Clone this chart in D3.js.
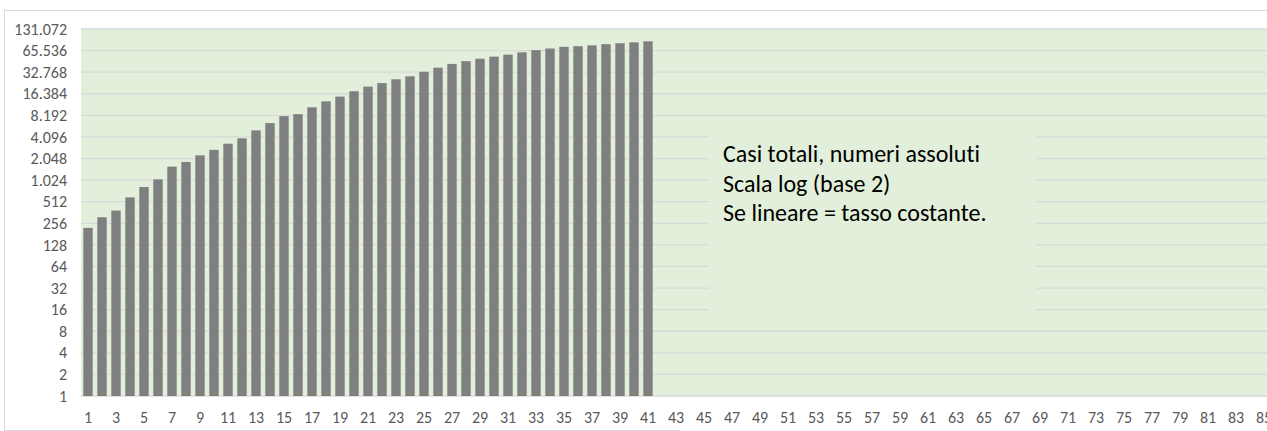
<!DOCTYPE html>
<html>
<head>
<meta charset="utf-8">
<script src="https://cdn.jsdelivr.net/npm/d3@7"></script>
<style>
  body { margin: 0; background: #fff; }
  svg { display: block; font-family: Calibri, Carlito, Lato, sans-serif; font-variant-ligatures: none; }
</style>
</head>
<body>
<svg id="chart" width="1267" height="431"></svg>
<script>
// days since start (category axis), only the first 41 have a value
var days = d3.range(1, 91);
var cases = [221, 311, 385, 588, 821, 1049, 1577, 1835, 2263, 2706,
  3296, 3916, 5061, 6387, 7985, 8514, 10590, 12839, 14955, 17750,
  20603, 23073, 26062, 28710, 33190, 37860, 42681, 46638, 50418, 54030,
  57521, 62013, 66414, 70065, 73880, 75528, 77635, 80572, 83049, 85388,
  88274];
var yTicks = d3.range(0, 18).map(function(e) { return Math.pow(2, e); });
var noteLines = ["Casi totali, numeri assoluti", "Scala log (base 2)", "Se lineare = tasso costante."];

var svg = d3.select("#chart");
var width = +svg.attr("width"), height = +svg.attr("height");

var plot = { left: 81, top: 29, bottom: 396 };
var step = 14;

var it = d3.formatLocale({ decimal: ",", thousands: ".", grouping: [3], currency: ["", " €"] });
var fmt = it.format(",d");

var x = d3.scaleBand()
  .domain(days)
  .range([plot.left, plot.left + days.length * step])
  .paddingInner(0.33)
  .paddingOuter(0.165);

var y = d3.scaleLog().base(2)
  .domain([1, 131072])
  .range([plot.bottom, plot.top]);

// outer chart border (picture is cropped on the right)
svg.append("path")
  .attr("d", "M" + 1280 + ",10.5H4.5V430.5H680")
  .attr("fill", "none")
  .attr("stroke", "#d9d9d9")
  .attr("stroke-width", 1);

// plot area
svg.append("rect")
  .attr("x", plot.left)
  .attr("y", plot.top)
  .attr("width", width - plot.left + 20)
  .attr("height", plot.bottom - plot.top)
  .attr("fill", "#e2efda");

// gridlines
svg.append("g")
  .selectAll("line")
  .data(yTicks)
  .enter()
  .append("line")
  .attr("x1", plot.left)
  .attr("x2", width + 20)
  .attr("y1", function(d) { return y(d); })
  .attr("y2", function(d) { return y(d); })
  .attr("stroke", "#d9d9d9")
  .attr("stroke-width", 1.3);

// bars
svg.append("g")
  .selectAll("rect")
  .data(cases)
  .enter()
  .append("rect")
  .attr("x", function(d, i) { return x(days[i]); })
  .attr("width", x.bandwidth())
  .attr("y", function(d) { return y(d); })
  .attr("height", function(d) { return plot.bottom - y(d); })
  .attr("fill", "#7f7f7f");

// y axis labels
var yAxis = d3.axisLeft(y).tickValues(yTicks).tickFormat(fmt).tickSize(0).tickPadding(14);
var gy = svg.append("g")
  .attr("transform", "translate(" + plot.left + ",0)")
  .call(yAxis);
gy.select(".domain").remove();
gy.attr("font-size", 16).attr("font-family", null);
gy.selectAll("text").attr("fill", "#595959");

// x axis labels (every other day)
var xAxis = d3.axisBottom(x)
  .tickValues(days.filter(function(d) { return d % 2 === 1; }))
  .tickSize(0)
  .tickPadding(16);
var gx = svg.append("g")
  .attr("transform", "translate(0," + plot.bottom + ")")
  .call(xAxis);
gx.select(".domain").remove();
gx.attr("font-size", 16).attr("font-family", null);
gx.selectAll("text").attr("fill", "#595959");

// text box
svg.append("rect")
  .attr("x", 709)
  .attr("y", 122)
  .attr("width", 327)
  .attr("height", 196)
  .attr("fill", "#e2efda");

svg.append("g")
  .selectAll("text")
  .data(noteLines)
  .enter()
  .append("text")
  .attr("x", 723)
  .attr("y", function(d, i) { return 162 + i * 29.5; })
  .attr("fill", "#000")
  .attr("font-size", 24)
  .text(function(d) { return d; });
</script>
</body>
</html>
